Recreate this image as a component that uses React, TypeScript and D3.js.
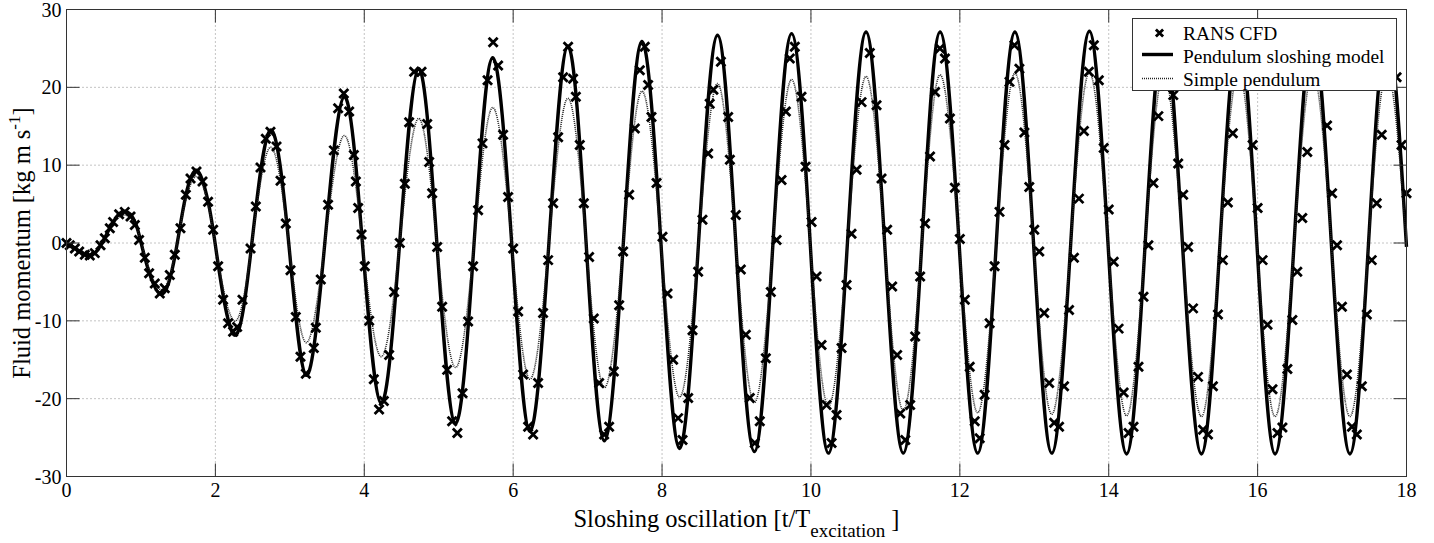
import React from "react";
import * as d3 from "d3";

// ---- axis ticks ----
const xTicks = [0, 2, 4, 6, 8, 10, 12, 14, 16, 18];
const yTicks = [-30, -20, -10, 0, 10, 20, 30];

// ---- RANS CFD samples [t/T, momentum] ----
const cfdSamples: [number, number][] = [
  [0.0, 0.0], [0.044, -0.3], [0.112, -0.7], [0.17, -1.1], [0.246, -1.5], [0.313, -1.6], [0.38, -1.3],
  [0.457, -0.3], [0.515, 0.6], [0.582, 1.9], [0.626, 2.7], [0.707, 3.7], [0.783, 4.0], [0.86, 3.4],
  [0.918, 2.3], [0.975, 0.4], [1.052, -1.9], [1.11, -3.9], [1.186, -5.2], [1.253, -6.5], [1.32, -5.8],
  [1.388, -4.1], [1.455, -1.5], [1.531, 1.9], [1.603, 6.2], [1.666, 8.3], [1.746, 9.2], [1.827, 7.9],
  [1.902, 5.3], [1.97, 1.7], [2.037, -3.0], [2.104, -7.3], [2.171, -10.3], [2.238, -11.4], [2.292, -10.8],
  [2.364, -7.3], [2.472, -0.7], [2.543, 4.7], [2.606, 9.7], [2.677, 13.4], [2.74, 14.3], [2.821, 12.4],
  [2.875, 8.0], [2.946, 2.5], [3.009, -3.5], [3.08, -9.5], [3.143, -14.6], [3.215, -16.8], [3.322, -13.5],
  [3.349, -10.9], [3.416, -4.7], [3.514, 4.9], [3.591, 11.9], [3.649, 17.3], [3.725, 19.2], [3.797, 16.9],
  [3.86, 11.3], [3.887, 7.9], [3.918, 4.5], [3.963, 1.1], [4.007, -3.0], [4.066, -10.0], [4.128, -17.5],
  [4.199, -21.4], [4.263, -20.3], [4.334, -14.4], [4.401, -6.3], [4.477, 0.0], [4.545, 7.6], [4.603, 15.5],
  [4.67, 22.0], [4.769, 22.0], [4.845, 15.3], [4.872, 10.4], [4.912, 6.4], [4.979, -0.5], [5.046, -8.2],
  [5.113, -16.3], [5.18, -22.9], [5.25, -24.4], [5.32, -19.3], [5.395, -10.1], [5.462, -3.0], [5.529, 4.2],
  [5.588, 12.8], [5.656, 20.9], [5.731, 25.8], [5.798, 22.8], [5.865, 13.9], [5.932, 5.9], [6.0, -0.7],
  [6.067, -8.8], [6.134, -16.9], [6.201, -23.6], [6.268, -24.6], [6.335, -18.0], [6.402, -9.0], [6.47, -2.2],
  [6.537, 5.1], [6.604, 13.6], [6.671, 21.3], [6.738, 25.2], [6.805, 21.1], [6.842, 18.8], [6.895, 12.6],
  [6.949, 5.1], [7.02, -1.8], [7.083, -9.7], [7.155, -18.0], [7.222, -24.6], [7.289, -23.6], [7.352, -16.5],
  [7.424, -8.0], [7.477, -1.1], [7.558, 6.2], [7.634, 14.7], [7.701, 22.2], [7.768, 25.2], [7.813, 20.3],
  [7.858, 16.2], [7.926, 7.7], [8.006, 0.8], [8.073, -6.5], [8.149, -15.0], [8.216, -22.5], [8.275, -25.3],
  [8.351, -19.9], [8.409, -11.2], [8.485, -3.7], [8.543, 3.0], [8.619, 11.5], [8.64, 17.9], [8.69, 19.7],
  [8.79, 23.3], [8.888, 16.2], [8.911, 10.7], [8.991, 3.6], [9.058, -3.4], [9.125, -11.8], [9.179, -19.9],
  [9.246, -25.7], [9.313, -22.9], [9.394, -14.8], [9.461, -6.3], [9.538, 0.4], [9.605, 8.1], [9.663, 16.9],
  [9.716, 23.7], [9.783, 25.2], [9.873, 18.8], [9.927, 9.8], [10.008, 2.7], [10.075, -4.3], [10.142, -13.1],
  [10.209, -20.8], [10.277, -25.7], [10.344, -22.1], [10.411, -13.5], [10.478, -5.4], [10.545, 1.2],
  [10.613, 9.4], [10.68, 18.1], [10.791, 24.4], [10.881, 17.7], [10.948, 8.3], [11.024, 1.7], [11.091, -5.6],
  [11.158, -14.4], [11.2, -21.9], [11.267, -25.3], [11.333, -20.8], [11.4, -12.0], [11.467, -4.3],
  [11.533, 2.5], [11.6, 11.1], [11.667, 19.4], [11.733, 25.0], [11.8, 23.7], [11.867, 16.0], [11.933, 7.1],
  [12.0, 0.5], [12.067, -7.3], [12.133, -15.9], [12.2, -22.9], [12.267, -25.1], [12.333, -19.5],
  [12.4, -10.3], [12.467, -3.0], [12.533, 4.0], [12.6, 12.6], [12.667, 20.7], [12.733, 25.4], [12.8, 22.4],
  [12.867, 14.2], [12.933, 7.2], [13.0, 1.7], [13.067, -1.1], [13.133, -9.0], [13.2, -18.0], [13.267, -23.1],
  [13.333, -23.6], [13.4, -18.4], [13.467, -8.6], [13.533, -1.9], [13.6, 5.7], [13.667, 14.4], [13.733, 22.0],
  [13.8, 25.4], [13.867, 20.9], [13.933, 12.2], [14.0, 4.3], [14.067, -2.4], [14.133, -11.0], [14.2, -19.2],
  [14.267, -24.4], [14.333, -23.6], [14.4, -15.9], [14.467, -6.9], [14.533, -0.3], [14.6, 7.7], [14.667, 16.3],
  [14.733, 22.8], [14.8, 25.0], [14.867, 19.0], [14.933, 10.2], [15.0, 6.2], [15.067, -0.5], [15.133, -8.4],
  [15.2, -17.2], [15.267, -24.0], [15.333, -24.6], [15.4, -18.4], [15.467, -9.2], [15.533, -2.2], [15.6, 5.2],
  [15.667, 14.1], [15.733, 21.5], [15.8, 25.3], [15.867, 21.8], [15.933, 12.6], [16.0, 4.5], [16.067, -2.2],
  [16.133, -10.5], [16.2, -18.8], [16.267, -24.4], [16.333, -23.7], [16.4, -16.2], [16.467, -9.9],
  [16.533, -3.7], [16.6, 3.2], [16.667, 11.7], [16.733, 20.5], [16.8, 25.4], [16.867, 22.6], [16.933, 15.1],
  [17.0, 6.4], [17.067, -0.3], [17.133, -8.2], [17.2, -16.9], [17.267, -23.6], [17.333, -24.6], [17.4, -18.4],
  [17.467, -9.2], [17.533, -2.2], [17.6, 5.1], [17.667, 13.9], [17.733, 22.0], [17.8, 25.3], [17.867, 21.3],
  [17.933, 12.6], [18.0, 6.4],
];

// ---- Pendulum sloshing model: extrema and zero crossings [t/T, momentum] ----
const pendulumModel: [number, number][] = [
  [0, 0], [0.12, -0.7], [0.3, -1.6], [0.46, -0.3], [0.62, 2.6], [0.78, 4.1], [0.93, 2.5], [1.05, -1.8],
  [1.27, -6.6], [1.46, -1.5], [1.6, 6.0], [1.76, 9.3], [1.9, 5.4], [2.0, -0.3], [2.25, -11.8], [2.49, 0],
  [2.74, 14.5], [2.985, 0], [3.22, -17.0], [3.47, 0], [3.73, 18.8], [3.975, 0], [4.225, -20.6], [4.475, 0],
  [4.73, 22.4], [4.975, 0], [5.225, -23.2], [5.475, 0], [5.725, 23.8], [5.98, 0], [6.225, -24.2], [6.48, 0],
  [6.735, 25.3], [6.98, 0], [7.225, -25.4], [7.48, 0], [7.73, 25.9], [7.985, 0], [8.235, -26.4], [8.49, 0],
  [8.745, 26.7], [8.99, 0], [9.24, -26.8], [9.49, 0], [9.74, 26.9], [9.99, 0], [10.235, -27.0], [10.49, 0],
  [10.74, 27.1], [10.99, 0], [11.24, -27.0], [11.49, 0], [11.735, 27.1], [11.99, 0], [12.24, -27.0],
  [12.49, 0], [12.74, 27.1], [12.99, 0], [13.235, -27.0], [13.49, 0], [13.74, 27.2], [13.99, 0],
  [14.24, -27.1], [14.49, 0], [14.74, 27.2], [14.99, 0], [15.245, -27.1], [15.495, 0], [15.745, 27.2],
  [15.99, 0], [16.235, -27.1], [16.49, 0], [16.74, 27.2], [16.99, 0], [17.24, -27.1], [17.49, 0],
  [17.74, 27.2], [18.0, -0.5],
];

// ---- Simple pendulum: extrema and zero crossings [t/T, momentum] ----
const simplePendulum: [number, number][] = [
  [0, 0], [0.12, -0.6], [0.3, -1.4], [0.46, -0.3], [0.62, 2.3], [0.78, 3.6], [0.93, 2.2], [1.05, -1.5],
  [1.27, -6.0], [1.46, -1.3], [1.6, 5.4], [1.76, 8.5], [1.9, 5.0], [2.0, -0.3], [2.25, -10.0], [2.49, 0],
  [2.74, 12.3], [2.985, 0], [3.22, -12.8], [3.47, 0], [3.73, 13.8], [3.975, 0], [4.225, -14.6], [4.475, 0],
  [4.73, 16.0], [4.975, 0], [5.225, -16.0], [5.475, 0], [5.725, 17.4], [5.98, 0], [6.225, -17.5], [6.48, 0],
  [6.735, 18.6], [6.98, 0], [7.225, -18.6], [7.48, 0], [7.73, 19.5], [7.985, 0], [8.235, -19.8], [8.49, 0],
  [8.745, 20.5], [8.99, 0], [9.24, -20.5], [9.49, 0], [9.74, 21.0], [9.99, 0], [10.235, -21.0], [10.49, 0],
  [10.74, 21.4], [10.99, 0], [11.24, -21.5], [11.49, 0], [11.735, 21.6], [11.99, 0], [12.24, -21.8],
  [12.49, 0], [12.74, 21.8], [12.99, 0], [13.235, -22.0], [13.49, 0], [13.74, 21.9], [13.99, 0],
  [14.24, -22.2], [14.49, 0], [14.74, 21.9], [14.99, 0], [15.245, -22.3], [15.495, 0], [15.745, 22.0],
  [15.99, 0], [16.235, -22.3], [16.49, 0], [16.74, 22.0], [16.99, 0], [17.24, -22.3], [17.49, 0],
  [17.74, 22.0], [18.0, -0.4],
];

const legendItems = ["RANS CFD", "Pendulum sloshing model", "Simple pendulum"];

const FONT = "Liberation Serif";
const W = 1434;
const H = 543;

export default function App() {
  const left = 66.5, right = 1406.5, top = 9.5, bottom = 476.5;
  const x = d3.scaleLinear().domain([0, 18]).range([left, right]);
  const y = d3.scaleLinear().domain([-30, 30]).range([bottom, top]);
  const line = d3
    .line<[number, number]>()
    .x((d) => x(d[0]))
    .y((d) => y(d[1]))
    .curve(d3.curveNatural);

  const m = 4.5;
  const xMark = `M${-m},${-m}L${m},${m}M${-m},${m}L${m},${-m}`;
  const lm = 3.6;
  const xMarkLegend = `M${-lm},${-lm}L${lm},${lm}M${-lm},${lm}L${lm},${-lm}`;
  const tickLen = 13;
  const axisColor = "#333";

  const lgX = 1132.5, lgY = 18.5, lgW = 264, lgH = 72;

  return (
    <svg
      width={W}
      height={H}
      style={{ position: "absolute", left: 0, top: 0, background: "#fff" }}
    >
      <rect x={0} y={0} width={W} height={H} fill="#fff" />
      {/* grid */}
      <g stroke="#888" strokeWidth={1} strokeDasharray="1 3">
        {xTicks.slice(1, -1).map((t) => (
          <line key={"gx" + t} x1={x(t)} x2={x(t)} y1={top} y2={bottom} />
        ))}
        {yTicks.slice(1, -1).map((t) => (
          <line key={"gy" + t} x1={left} x2={right} y1={y(t)} y2={y(t)} />
        ))}
      </g>

      {/* series */}
      <path d={line(pendulumModel) || ""} fill="none" stroke="#000" strokeWidth={3.4} strokeLinejoin="round" />
      <path d={line(simplePendulum) || ""} fill="none" stroke="#222" strokeWidth={1.6} strokeDasharray="1 1" />
      <g stroke="#000" strokeWidth={2.8} fill="none">
        {cfdSamples.map((d, i) => (
          <path key={"c" + i} d={xMark} transform={`translate(${x(d[0])},${y(d[1])})`} />
        ))}
      </g>

      {/* axes box and ticks */}
      <rect x={left} y={top} width={right - left} height={bottom - top} fill="none" stroke={axisColor} strokeWidth={1} />
      <g stroke={axisColor} strokeWidth={1}>
        {xTicks.map((t) => (
          <g key={"xt" + t}>
            <line x1={x(t)} x2={x(t)} y1={bottom} y2={bottom - tickLen} />
            <line x1={x(t)} x2={x(t)} y1={top} y2={top + tickLen} />
          </g>
        ))}
        {yTicks.map((t) => (
          <g key={"yt" + t}>
            <line x1={left} x2={left + tickLen} y1={y(t)} y2={y(t)} />
            <line x1={right} x2={right - tickLen} y1={y(t)} y2={y(t)} />
          </g>
        ))}
      </g>

      {/* tick labels */}
      <g fontSize={20} fill="#000" fontFamily={FONT}>
        {xTicks.map((t) => (
          <text key={"xl" + t} fontFamily={FONT} x={x(t)} y={497} textAnchor="middle">
            {t}
          </text>
        ))}
        {yTicks.map((t) => (
          <text key={"yl" + t} fontFamily={FONT} x={61.5} y={y(t)} dy="0.35em" textAnchor="end">
            {t}
          </text>
        ))}
      </g>

      {/* axis titles */}
      <text fontFamily={FONT} x={(left + right) / 2} y={527} textAnchor="middle" fontSize={24.5} fill="#000">
        <tspan>Sloshing oscillation [t/T</tspan>
        <tspan fontSize={19} dy={10}>excitation</tspan>
        <tspan dy={-10}> ]</tspan>
      </text>
      <text
        fontFamily={FONT}
        transform={`translate(30,${(top + bottom) / 2}) rotate(-90)`}
        textAnchor="middle"
        fontSize={24.5}
        fill="#000"
      >
        <tspan>Fluid momentum [kg m s</tspan>
        <tspan fontSize={17} dy={-10}>-1</tspan>
        <tspan dy={10}>]</tspan>
      </text>

      {/* legend */}
      <rect x={lgX} y={lgY} width={lgW} height={lgH} fill="#fff" stroke={axisColor} strokeWidth={1} />
      <path d={xMarkLegend} transform={`translate(1159.5,33)`} stroke="#000" strokeWidth={2.8} fill="none" />
      <line x1={1142} x2={1173} y1={54.5} y2={54.5} stroke="#000" strokeWidth={3.4} />
      <line x1={1142} x2={1173} y1={78.5} y2={78.5} stroke="#222" strokeWidth={1.6} strokeDasharray="1 1" />
      <g fontSize={19.4} fill="#000" fontFamily={FONT}>
        {legendItems.map((s, i) => (
          <text key={s} fontFamily={FONT} x={1183} y={39.5 + i * 23}>
            {s}
          </text>
        ))}
      </g>
    </svg>
  );
}
